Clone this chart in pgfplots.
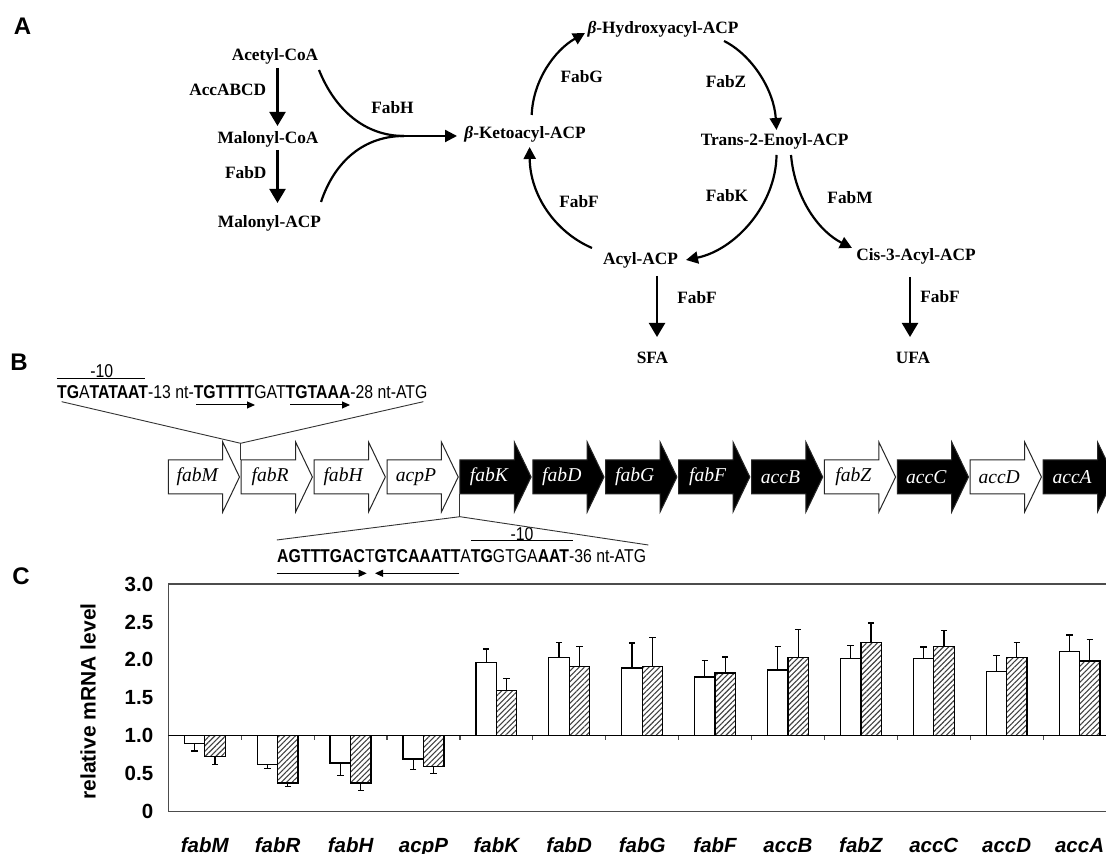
\documentclass[border=0pt]{standalone}
\usepackage{fontspec}
\setmainfont{Liberation Serif}
\setsansfont{Liberation Sans}
\newfontfamily\seqf[FakeStretch=0.85]{Liberation Sans}
\usepackage{pgfplots}
\pgfplotsset{compat=1.18}
\usepackage{pgfplotstable}
\usetikzlibrary{arrows.meta,patterns.meta}

% relative mRNA level, white bars; ep/em = upper/lower error
\pgfplotstableread{
x v ep em
0 0.900 0 0.100
1 0.625 0 0.055
2 0.640 0 0.160
3 0.695 0 0.135
4 1.963 0.180 0
5 2.034 0.190 0
6 1.893 0.330 0
7 1.775 0.215 0
8 1.867 0.310 0
9 2.020 0.170 0
10 2.020 0.150 0
11 1.845 0.210 0
12 2.108 0.220 0
}\whitedata
% hatched bars
\pgfplotstableread{
x v ep em
0 0.725 0 0.100
1 0.380 0 0.050
2 0.380 0 0.100
3 0.600 0 0.095
4 1.600 0.160 0
5 1.915 0.260 0
6 1.915 0.380 0
7 1.827 0.210 0
8 2.034 0.370 0
9 2.227 0.260 0
10 2.174 0.210 0
11 2.034 0.190 0
12 1.985 0.280 0
}\hatchdata

\newcommand{\Af}{\bfseries\fontsize{8.65}{10}\selectfont}
\newcommand{\genef}{\itshape\fontsize{9.8}{11}\selectfont}
\newcommand{\genearrow}[4]{%
  \pgfmathsetmacro\L{168.3+72.9*#1}%
  \draw[fill=#2, draw=black!85, line width=0.5pt] (\L,460) -- ++(54.4,0) -- ++(0,-18) -- ++(16.8,35) -- ++(-16.8,35) -- ++(0,-18) -- ++(-54.4,0) -- cycle;
  \node[font=\genef, text=#3, inner sep=0] at (\L+29,477) {#4};
}

\begin{document}
\begin{tikzpicture}
\useasboundingbox (0pt,0pt) rectangle (553pt,427pt);
\begin{scope}[x=0.5pt,y=-0.5pt,shift={(0pt,427pt)}]
% panel labels
\node[font=\sffamily\bfseries\fontsize{12}{14}\selectfont] at (22.5,26) {A};
\node[font=\sffamily\bfseries\fontsize{12}{14}\selectfont] at (19,362) {B};
\node[font=\sffamily\bfseries\fontsize{12}{14}\selectfont] at (21,576) {C};
% ---------- panel A ----------
\begin{scope}[every node/.style={font=\Af, anchor=base, inner sep=0}]
\node at (275,61) {Acetyl-CoA};
\node at (227.7,96) {AccABCD};
\node at (268,144) {Malonyl-CoA};
\node at (245.7,179) {FabD};
\node at (269.4,227.5) {Malonyl-ACP};
\node at (392.5,114) {FabH};
\node[anchor=base west] at (464,139) {\textit{β}-Ketoacyl-ACP};
\node at (581.7,83) {FabG};
\node at (663,34) {\textit{β}-Hydroxyacyl-ACP};
\node at (726,88) {FabZ};
\node at (774.6,146) {Trans-2-Enoyl-ACP};
\node at (727,201.5) {FabK};
\node at (850,204) {FabM};
\node at (916,261) {Cis-3-Acyl-ACP};
\node at (640.5,265) {Acyl-ACP};
\node at (579,207.5) {FabF};
\node at (697,303.5) {FabF};
\node at (940,302.5) {FabF};
\node at (652.5,363.5) {SFA};
\node at (913,363.5) {UFA};
\end{scope}
\begin{scope}[line width=1.1pt, black]
\draw[-{Triangle[length=7pt,width=8pt]}] (277.5,68) -- (277.5,126);
\draw[-{Triangle[length=7pt,width=8pt]}] (277.5,150) -- (277.5,203);
\draw (319,70) .. controls (335,110) and (365,136) .. (404,136);
\draw (321,202) .. controls (335,160) and (365,136) .. (404,136);
\draw[-{Triangle[length=6pt,width=6pt]}] (400,136) -- (457,136);
\draw[-{Triangle[length=6pt,width=6pt]}] (531.7,115) .. controls (533,80) and (555,50) .. (585,33);
\draw[-{Triangle[length=6pt,width=6pt]}] (724,41) .. controls (752,55) and (774,90) .. (776.5,130);
\draw[-{Triangle[length=6pt,width=6pt]}] (776.5,155) .. controls (776,205) and (735,250) .. (686,260);
\draw[-{Triangle[length=6pt,width=6pt]}] (791,155) .. controls (795,200) and (820,232) .. (852,248);
\draw[-{Triangle[length=6pt,width=6pt]}] (592,248) .. controls (555,232) and (530,195) .. (529.6,147);
\draw[-{Triangle[length=7pt,width=8pt]}] (657,276) -- (657,337);
\draw[-{Triangle[length=7pt,width=8pt]}] (910,277) -- (910,337);
\end{scope}
% ---------- panel B ----------
\genearrow{0}{white}{black}{fabM}
\genearrow{1}{white}{black}{fabR}
\genearrow{2}{white}{black}{fabH}
\genearrow{3}{white}{black}{acpP}
\genearrow{4}{black}{white}{fabK}
\genearrow{5}{black}{white}{fabD}
\genearrow{6}{black}{white}{fabG}
\genearrow{7}{black}{white}{fabF}
\genearrow{8}{black}{white}{accB}
\genearrow{9}{white}{black}{fabZ}
\genearrow{10}{black}{white}{accC}
\genearrow{11}{white}{black}{accD}
\genearrow{12}{black}{white}{accA}
% first promoter
\node[font=\seqf\fontsize{9.3}{11}\selectfont, anchor=base west, inner sep=0] at (56.7,398.3)
  {\textbf{TG}A\textbf{TATAAT}-13 nt-\textbf{TGTTTT}GAT\textbf{TGTAAA}-28 nt-ATG};
\node[font=\seqf\fontsize{9.3}{11}\selectfont, inner sep=0] at (101.7,371) {-10};
\draw[line width=0.5pt] (56.7,378.3) -- (145,378.3);
\draw[line width=0.5pt, -{Triangle[length=4pt,width=3.5pt]}] (196,405) -- (255,405);
\draw[line width=0.5pt, -{Triangle[length=4pt,width=3.5pt]}] (290,405) -- (350,405);
\draw[line width=0.45pt, black!80] (61.7,401.7) -- (240.6,443.3) -- (423.3,401.7);
\draw[line width=0.45pt, black!80] (240.6,443.3) -- (240.6,460);
% second promoter
\node[font=\seqf\fontsize{9.3}{11}\selectfont, anchor=base west, inner sep=0] at (276.8,563)
  {\textbf{AGTTTGAC}T\textbf{GTCAAATT}A\textbf{TG}GTGA\textbf{AAT}-36 nt-ATG};
\node[font=\seqf\fontsize{9.3}{11}\selectfont, inner sep=0] at (522,534) {-10};
\draw[line width=0.5pt] (471.4,540.5) -- (572.5,540.5);
\draw[line width=0.5pt, -{Triangle[length=4pt,width=3.5pt]}] (276.7,573.3) -- (366.7,573.3);
\draw[line width=0.5pt, -{Triangle[length=4pt,width=3.5pt]}] (459.3,573.3) -- (375,573.3);
\draw[line width=0.45pt, black!80] (276.8,540) -- (459.9,516.7) -- (648.3,545);
\draw[line width=0.45pt, black!80] (459.9,494) -- (459.9,516.7);
\end{scope}
% ---------- panel C ----------
\begin{axis}[
  at={(84.15pt,21.15pt)}, anchor=south west,
  scale only axis, width=473.85pt, height=113.85pt,
  xmin=-0.5, xmax=12.5, ymin=-1, ymax=2,
  axis line style={draw=black!70, line width=0.7pt},
  xtick={0,...,12},
  xticklabels={fabM,fabR,fabH,acpP,fabK,fabD,fabG,fabF,accB,fabZ,accC,accD,accA},
  ytick={-1,-0.5,0,0.5,1,1.5,2},
  yticklabels={0,0.5,1.0,1.5,2.0,2.5,3.0},
  major tick length=0pt,
  xticklabel style={font=\sffamily\bfseries\itshape\fontsize{10.25}{12}\selectfont, anchor=base, yshift=-20.5pt},
  yticklabel style={font=\sffamily\bfseries\fontsize{10.25}{12}\selectfont, xshift=-4pt},
  ylabel={relative mRNA level},
  ylabel style={font=\sffamily\bfseries\fontsize{10.5}{12}\selectfont, at={(axis description cs:-0.0847,0.484)}, anchor=center},
]
\addplot[ybar, bar width=0.28, bar shift=0pt, draw=black, fill=white, line width=0.65pt,
  error bars/.cd, y dir=both, y explicit,
  error bar style={line width=0.6pt, black},
  error mark options={line width=0.6pt, mark size=1.6pt, black, rotate=90}]
  table[x expr=\thisrow{x}-0.14, y expr=\thisrow{v}-1, y error plus=ep, y error minus=em] {\whitedata};
\addplot[ybar, bar width=0.28, bar shift=0pt, draw=black,
  pattern={Lines[angle=45,distance=1.9pt,line width=0.55pt]}, pattern color=black!75, line width=0.65pt,
  error bars/.cd, y dir=both, y explicit,
  error bar style={line width=0.6pt, black},
  error mark options={line width=0.6pt, mark size=1.6pt, black, rotate=90}]
  table[x expr=\thisrow{x}+0.14, y expr=\thisrow{v}-1, y error plus=ep, y error minus=em] {\hatchdata};
\draw[black, line width=0.6pt] (axis cs:-0.5,0) -- (axis cs:12.5,0);
\pgfplotsinvokeforeach{0.5,1.5,...,11.5}{\draw[black!70, line width=0.6pt] (axis cs:#1,0) -- ++(0pt,-2pt);}
\end{axis}
\end{tikzpicture}
\end{document}
